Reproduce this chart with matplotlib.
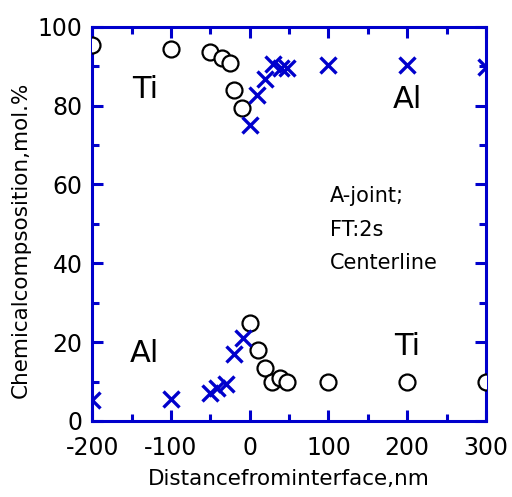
import matplotlib
matplotlib.use("Agg")
import matplotlib.pyplot as plt
from matplotlib.ticker import MultipleLocator

plt.rcParams["axes.unicode_minus"] = False
BLUE = "#0000cc"

# Ti measured in the Ti side, dropping toward the interface
ti_hi_x = [-200, -100, -50, -35, -25, -20, -10]
ti_hi_y = [95.5, 94.5, 93.5, 92, 90.8, 84, 79.4]
# Ti measured in the Al side
ti_lo_x = [0, 10, 20, 28, 38, 48, 100, 200, 300]
ti_lo_y = [24.8, 18, 13.4, 9.8, 10.9, 10, 10, 10, 10]
# Al in the Al side
al_hi_x = [0, 9, 19, 30, 40, 47, 100, 200, 300]
al_hi_y = [75, 82.6, 86.7, 90.5, 89.5, 89.5, 90.4, 90.4, 89.7]
# Al in the Ti side
al_lo_x = [-200, -100, -50, -42, -30, -20, -9]
al_lo_y = [5.4, 5.6, 7.0, 8.3, 9.4, 17, 21]

fig = plt.figure(figsize=(5.12, 4.97), dpi=100)
ax = fig.add_axes([0.18, 0.153, 0.769, 0.793])

circ = dict(marker="o", ls="none", mfc="white", mec="black", ms=11.5, mew=1.6)
cross = dict(marker="x", ls="none", color=BLUE, ms=11.5, mew=2.4)
ax.plot(ti_hi_x, ti_hi_y, **circ, zorder=3)
ax.plot(ti_lo_x, ti_lo_y, **circ, zorder=3)
ax.plot(al_hi_x, al_hi_y, **cross, zorder=4)
ax.plot(al_lo_x, al_lo_y, **cross, zorder=4)

ax.set_xlim(-200, 300)
ax.set_ylim(0, 100)
ax.xaxis.set_major_locator(MultipleLocator(100))
ax.xaxis.set_minor_locator(MultipleLocator(50))
ax.yaxis.set_major_locator(MultipleLocator(20))
ax.yaxis.set_minor_locator(MultipleLocator(10))

for s in ax.spines.values():
    s.set_color(BLUE)
    s.set_linewidth(2.2)
ax.tick_params(which="both", direction="in", top=True, right=True,
               color=BLUE, width=2.2, labelsize=17)
ax.tick_params(which="major", length=8)
ax.tick_params(which="minor", length=5)
ax.tick_params(axis="x", which="major", pad=11)
ax.tick_params(axis="y", which="major", pad=7)

ax.set_xlabel("Distancefrominterface,nm", fontsize=15.5, labelpad=6)
ax.set_ylabel("Chemicalcompsosition,mol.%", fontsize=15.5)
ax.yaxis.set_label_coords(-0.155, 0.46)

ax.text(-133, 84, "Ti", fontsize=22, ha="center", va="center")
ax.text(200, 81.5, "Al", fontsize=22, ha="center", va="center")
ax.text(-133, 17, "Al", fontsize=22, ha="center", va="center")
ax.text(200, 19, "Ti", fontsize=22, ha="center", va="center")
for yy, s in zip([57, 48.5, 40], ["A-joint;", "FT:2s", "Centerline"]):
    ax.text(102, yy, s, fontsize=15, ha="left", va="center")

fig.savefig("out.png", dpi=100)
